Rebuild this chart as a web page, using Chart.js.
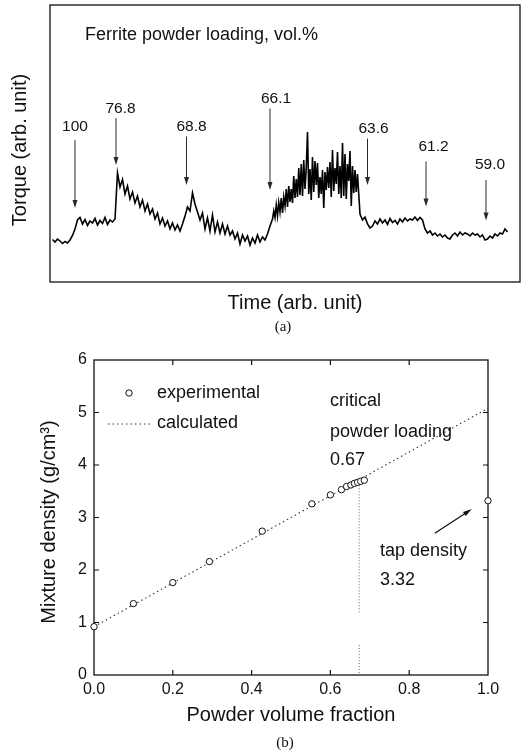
<!DOCTYPE html>
<html><head><meta charset="utf-8">
<script src="https://cdn.jsdelivr.net/npm/chart.js@4.4.0/dist/chart.umd.min.js"></script>
<style>
html,body{margin:0;padding:0;background:#fff;}
#wrap{position:relative;width:521px;height:750px;overflow:hidden;background:#fff;}
canvas{position:absolute;left:0;}
#cA{top:0;} #cB{top:320px;}
.cap{position:absolute;font-family:"Liberation Serif","Times New Roman",serif;font-size:15px;color:#111;transform:translate(-50%,-50%);}
</style></head><body>
<div id="wrap">
<canvas id="cA" width="521" height="320"></canvas>
<canvas id="cB" width="521" height="430"></canvas>
<div class="cap" style="left:283px;top:326px">(a)</div>
<div class="cap" style="left:285px;top:742px">(b)</div>
</div>
<script>
// ---------- Panel (a): torque trace (arbitrary units) ----------
const traceTime = [
 0.5,1.0,1.5,2.0,2.5,3.0,3.5,4.0,4.5,5.0,
 5.5,6.0,6.5,7.0,7.5,8.0,8.5,9.0,9.5,10.0,
 10.5,11.0,11.5,12.0,12.5,13.0,13.5,14.0,14.5,15.0,
 15.5,16.0,16.5,17.0,17.5,18.0,18.5,19.0,19.5,20.0,
 20.5,21.0,21.5,22.0,22.5,23.0,23.5,24.0,24.5,25.0,
 25.5,26.0,26.5,27.0,27.5,28.0,28.5,29.0,29.5,30.0,
 30.5,31.0,31.5,32.0,32.5,33.0,33.5,34.0,34.5,35.0,
 35.5,36.0,36.5,37.0,37.5,38.0,38.5,39.0,39.5,40.0,
 40.5,41.0,41.5,42.0,42.5,43.0,43.5,44.0,
 44.5,44.75,45.0,45.25,45.5,45.75,46.0,46.25,46.5,46.75,
 47.0,47.25,47.5,47.75,48.0,48.25,48.5,48.75,49.0,49.25,
 49.5,49.75,50.0,50.25,50.5,50.75,51.0,51.25,51.5,51.75,
 52.0,52.25,52.5,52.75,53.0,53.25,53.5,53.75,54.0,54.25,
 54.5,54.75,55.0,55.25,55.5,55.75,56.0,56.25,56.5,56.75,
 57.0,57.25,57.5,57.75,58.0,58.25,58.5,58.75,59.0,59.25,
 59.5,59.75,60.0,60.25,60.5,60.75,61.0,61.25,61.5,
 62.0,62.5,63.0,63.5,64.0,64.5,65.0,
 65.5,66.0,66.5,67.0,67.5,68.0,68.5,69.0,69.5,70.0,
 70.5,71.0,71.5,72.0,72.5,73.0,73.5,74.0,74.5,75.0,
 75.5,76.0,76.5,77.0,77.5,78.0,78.5,79.0,79.5,80.0,
 80.5,81.0,81.5,82.0,82.5,83.0,83.5,84.0,84.5,85.0,
 85.5,86.0,86.5,87.0,87.5,88.0,88.5,89.0,89.5,90.0,
 90.5,91.0,91.5];
const traceTorque = [
 8.5,8.0,8.6,8.2,7.7,8.1,7.8,8.4,9.3,10.6,
 12.4,12.9,11.6,12.5,11.3,12.2,11.8,12.7,11.4,12.3,
 11.7,12.9,11.5,12.4,12.0,12.6,21.8,19.0,20.5,17.6,
 19.2,16.6,18.0,15.8,17.2,15.0,16.4,14.2,15.6,13.6,
 14.6,12.6,13.8,11.6,12.8,11.2,12.2,10.6,11.8,10.4,
 11.4,10.2,11.6,13.2,15.0,14.2,17.8,15.6,14.0,12.4,
 13.8,10.6,12.8,10.2,13.4,10.0,12.0,9.8,11.6,9.6,
 11.2,9.4,10.2,8.6,9.8,7.6,9.4,8.2,9.2,7.4,
 8.8,7.8,9.4,8.0,9.0,8.4,9.6,11.2,
 12.6,14.2,12.9,15.4,13.2,15.9,14.0,16.8,13.8,17.0,
 15.2,18.6,15.0,19.2,16.0,18.6,15.8,21.2,16.8,20.6,
 17.0,22.8,17.4,23.6,17.2,24.4,18.6,22.8,30.0,17.6,
 22.6,16.4,25.0,18.0,24.2,19.4,23.8,16.8,21.0,17.6,
 22.4,14.8,22.0,18.4,23.0,18.8,24.0,17.0,26.4,18.2,
 22.8,19.6,26.0,17.6,23.2,16.8,27.8,17.2,25.6,16.6,
 23.6,20.2,26.2,15.2,23.2,17.8,22.4,18.0,21.6,
 13.6,12.4,13.0,11.6,10.8,11.2,12.2,
 11.6,12.6,11.8,12.4,11.5,12.7,11.9,12.3,11.6,12.6,
 12.0,12.8,12.2,12.6,12.4,13.0,12.3,12.9,12.4,10.6,
 9.8,10.2,9.4,9.8,9.2,9.6,9.0,9.4,8.8,8.6,
 9.4,9.8,9.2,10.0,9.4,9.8,9.6,9.2,9.8,9.4,
 9.6,9.0,9.4,8.4,8.6,9.2,8.8,9.6,9.2,9.8,
 9.6,10.6,10.0];
const loadingLabels   = ['100','76.8','68.8','66.1','63.6','61.2','59.0'];
const arrowTime       = [5.0, 13.2, 27.3, 44.0, 63.5, 75.2, 87.2];
const arrowTailTorque = [28.4, 32.8, 29.1, 34.7, 28.7, 24.1, 20.4];
const arrowTipTorque  = [14.8, 23.4, 19.4, 18.4, 19.4, 15.1, 12.3];
const labelTime       = [5.0, 14.1, 28.3, 45.2, 64.7, 76.7, 88.0];
const labelTorque     = [31.0, 34.7, 31.1, 36.7, 30.7, 27.1, 23.4];

// ---------- Panel (b): mixture density ----------
const fraction = [0, 0.1, 0.2, 0.293, 0.427, 0.553, 0.6, 0.628, 0.641, 0.652, 0.661, 0.669, 0.677, 0.686, 1.0];
const density  = [0.92, 1.36, 1.76, 2.16, 2.74, 3.26, 3.43, 3.53, 3.59, 3.62, 3.65, 3.67, 3.69, 3.71, 3.32];
const calcFraction = [0, 1];
const calcDensity  = [0.92, 5.08];
const dropFraction = [0.673, 0.673, 0.673, 0.673, 0.673];
const dropDensity  = [3.67, 1.18, null, 0.57, 0];
const xTickLabels = ['0.0','0.2','0.4','0.6','0.8','1.0'];
const yTickLabels = ['0','1','2','3','4','5','6'];

const FONT = '"Liberation Sans", Arial, Helvetica, sans-serif';
const INK = '#111';

function pts(xs, ys){ return xs.map((x,i)=>({x:x, y:ys[i]})); }
function txt(ctx, s, x, y, size, align, rot){
  ctx.save();
  ctx.font = size + 'px ' + FONT;
  ctx.fillStyle = INK;
  ctx.textAlign = align || 'left';
  ctx.textBaseline = 'middle';
  ctx.translate(x, y);
  if (rot) ctx.rotate(rot);
  ctx.fillText(s, 0, 0);
  ctx.restore();
}
function arrow(ctx, x1, y1, x2, y2, color, lw, hl, hw){
  const a = Math.atan2(y2-y1, x2-x1);
  ctx.save();
  ctx.strokeStyle = color; ctx.fillStyle = color; ctx.lineWidth = lw;
  ctx.beginPath(); ctx.moveTo(x1,y1);
  ctx.lineTo(x2 - Math.cos(a)*hl*0.8, y2 - Math.sin(a)*hl*0.8); ctx.stroke();
  ctx.beginPath();
  ctx.moveTo(x2, y2);
  ctx.lineTo(x2 - Math.cos(a)*hl + Math.sin(a)*hw/2, y2 - Math.sin(a)*hl - Math.cos(a)*hw/2);
  ctx.lineTo(x2 - Math.cos(a)*hl - Math.sin(a)*hw/2, y2 - Math.sin(a)*hl + Math.cos(a)*hw/2);
  ctx.closePath(); ctx.fill();
  ctx.restore();
}

const boxPlugin = {
  id: 'box',
  beforeDatasetsDraw(chart){
    const {ctx, chartArea:{left,right,top,bottom}} = chart;
    ctx.save(); ctx.strokeStyle = INK; ctx.lineWidth = 1.3;
    ctx.strokeRect(left, top, right-left, bottom-top);
    ctx.restore();
  }
};

// ---- Chart A ----
const annotA = {
  id: 'annotA',
  afterDatasetsDraw(chart){
    const {ctx, scales:{x,y}} = chart;
    for (let i=0;i<loadingLabels.length;i++){
      const px = x.getPixelForValue(arrowTime[i]);
      arrow(ctx, px, y.getPixelForValue(arrowTailTorque[i]), px, y.getPixelForValue(arrowTipTorque[i]), '#2a2a2a', 1, 8, 5);
      txt(ctx, loadingLabels[i], x.getPixelForValue(labelTime[i]), y.getPixelForValue(labelTorque[i]), 15.5, 'center');
    }
    txt(ctx, 'Ferrite powder loading, vol.%', 85, 35, 18, 'left');
    txt(ctx, 'Time (arb. unit)', 295, 303, 20, 'center');
    txt(ctx, 'Torque (arb. unit)', 20, 150, 20, 'center', -Math.PI/2);
  }
};

new Chart(document.getElementById('cA'), {
  type: 'line',
  data: { datasets: [{
    data: pts(traceTime, traceTorque),
    borderColor: '#000', borderWidth: 1.6, pointRadius: 0, tension: 0, fill: false
  }]},
  options: {
    responsive: false, animation: false, devicePixelRatio: 1,
    layout: { padding: { top: 5, right: 1, left: 0, bottom: 0 } },
    plugins: { legend: {display:false}, tooltip: {enabled:false} },
    scales: {
      x: { type:'linear', min:0, max:94, grid:{display:false, drawTicks:false}, border:{display:false},
           ticks:{display:false}, afterFit: s => { s.height = 38; } },
      y: { type:'linear', min:0, max:55.4, grid:{display:false, drawTicks:false}, border:{display:false},
           ticks:{display:false}, afterFit: s => { s.width = 50; } }
    }
  },
  plugins: [boxPlugin, annotA]
});

// ---- Chart B ----
const annotB = {
  id: 'annotB',
  afterDatasetsDraw(chart){
    const {ctx, chartArea:{left,right,top,bottom}, scales:{x,y}} = chart;
    ctx.save(); ctx.strokeStyle = INK; ctx.lineWidth = 1.2;
    const tl = 5;
    x.ticks.forEach(t => {
      const px = x.getPixelForValue(t.value);
      if (px <= left+1 || px >= right-1) return;
      ctx.beginPath(); ctx.moveTo(px, bottom); ctx.lineTo(px, bottom-tl);
      ctx.moveTo(px, top); ctx.lineTo(px, top+tl); ctx.stroke();
    });
    y.ticks.forEach(t => {
      const py = y.getPixelForValue(t.value);
      if (py <= top+1 || py >= bottom-1) return;
      ctx.beginPath(); ctx.moveTo(left, py); ctx.lineTo(left+tl, py);
      ctx.moveTo(right, py); ctx.lineTo(right-tl, py); ctx.stroke();
    });
    ctx.restore();

    // legend
    const lx = left, ly = top;
    ctx.save();
    ctx.strokeStyle = '#111'; ctx.lineWidth = 1; ctx.fillStyle = '#fff';
    ctx.beginPath(); ctx.arc(lx + 35, ly + 33, 3.2, 0, Math.PI*2); ctx.fill(); ctx.stroke();
    ctx.setLineDash([1.5, 3]); ctx.strokeStyle = '#333';
    ctx.beginPath(); ctx.moveTo(lx + 14, ly + 64); ctx.lineTo(lx + 58, ly + 64); ctx.stroke();
    ctx.restore();
    txt(ctx, 'experimental', lx + 63, ly + 33, 18, 'left');
    txt(ctx, 'calculated', lx + 63, ly + 63, 18, 'left');

    // annotations
    const ax = v => x.getPixelForValue(v), ay = v => y.getPixelForValue(v);
    txt(ctx, 'critical', ax(0.599), ay(5.21), 18, 'left');
    txt(ctx, 'powder loading', ax(0.599), ay(4.63), 18, 'left');
    txt(ctx, '0.67', ax(0.599), ay(4.10), 18, 'left');
    txt(ctx, 'tap density', ax(0.726), ay(2.36), 18, 'left');
    txt(ctx, '3.32', ax(0.726), ay(1.81), 18, 'left');
    arrow(ctx, ax(0.865), ay(2.70), ax(0.959), ay(3.16), '#111', 1.3, 9, 5);

    txt(ctx, 'Powder volume fraction', 291, 395, 20, 'center');
    txt(ctx, 'Mixture density (g/cm³)', 49, 202, 20, 'center', -Math.PI/2);
  }
};

new Chart(document.getElementById('cB'), {
  type: 'scatter',
  data: { datasets: [
    { data: pts(calcFraction, calcDensity), showLine: true, borderColor: '#333', borderWidth: 1.1,
      borderDash: [1.5, 3], pointRadius: 0, clip: false, order: 3 },
    { data: pts(dropFraction, dropDensity), showLine: true, spanGaps: false, borderColor: '#666', borderWidth: 1,
      borderDash: [1, 2], pointRadius: 0, clip: false, order: 2 },
    { data: pts(fraction, density), showLine: false, pointRadius: 3.2, pointBorderWidth: 1,
      pointBorderColor: '#111', pointBackgroundColor: '#fff', clip: false, order: 1 }
  ]},
  options: {
    responsive: false, animation: false, devicePixelRatio: 1,
    layout: { padding: { top: 40, right: 33, left: 0, bottom: 0 } },
    plugins: { legend: {display:false}, tooltip: {enabled:false} },
    scales: {
      x: { type:'linear', min:0, max:1, grid:{display:false, drawTicks:false}, border:{display:false},
           ticks:{ stepSize:0.2, padding:5, color:INK, font:{family:FONT, size:16},
                   callback: (v,i) => xTickLabels[i] },
           afterFit: s => { s.height = 75; } },
      y: { type:'linear', min:0, max:6, grid:{display:false, drawTicks:false}, border:{display:false},
           ticks:{ stepSize:1, padding:7, color:INK, font:{family:FONT, size:16},
                   callback: (v,i) => yTickLabels[i] },
           afterFit: s => { s.width = 94; } }
    }
  },
  plugins: [boxPlugin, annotB]
});
</script>
</body></html>
